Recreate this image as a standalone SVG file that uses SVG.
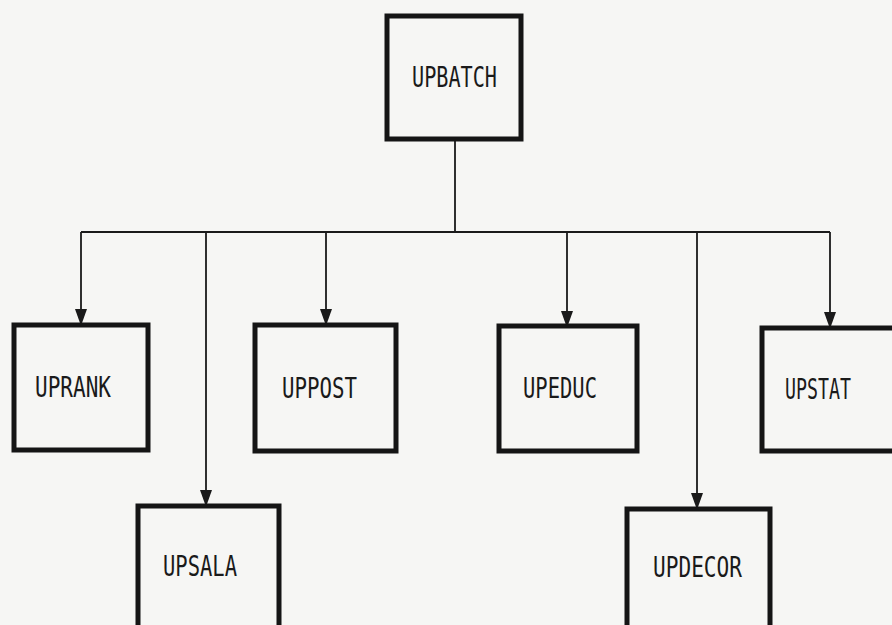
<svg xmlns="http://www.w3.org/2000/svg" width="892" height="625" viewBox="0 0 892 625">
<defs>
<style>
.box{fill:none;stroke:#151515;stroke-width:5}
.lbl{font-family:"DejaVu Sans Mono","Liberation Mono",monospace;font-size:28px;fill:#1a1a1a}
.con{fill:none;stroke:#1a1a1a;stroke-width:1.8}
.ah{fill:#1a1a1a}
</style>
</defs>
<rect width="892" height="625" fill="#f6f6f4"/>
<g id="connectors">
<line class="con" x1="455" y1="140" x2="455" y2="232"/>
<line class="con" x1="81" y1="232" x2="830" y2="232"/>
<path class="con" d="M81,232 V310"/>
<polygon class="ah" points="75,309 87,309 82,323 80,323"/>
<path class="con" d="M206,232 V491"/>
<polygon class="ah" points="200,490 212,490 207,504 205,504"/>
<path class="con" d="M326,232 V310"/>
<polygon class="ah" points="320,309 332,309 327,323 325,323"/>
<path class="con" d="M567,232 V312"/>
<polygon class="ah" points="561,311 573,311 568,325 566,325"/>
<path class="con" d="M697,232 V494"/>
<polygon class="ah" points="691,493 703,493 698,507 696,507"/>
<path class="con" d="M830,232 V313"/>
<polygon class="ah" points="824,312 836,312 831,326 829,326"/>
</g>
<g id="UPBATCH">
<rect class="box" x="387" y="16" width="134" height="123"/>
<text class="lbl" x="412" y="87" textLength="85" lengthAdjust="spacingAndGlyphs">UPBATCH</text>
</g>
<g id="UPRANK">
<rect class="box" x="14" y="325" width="134" height="125"/>
<text class="lbl" x="35" y="397" textLength="76" lengthAdjust="spacingAndGlyphs">UPRANK</text>
</g>
<g id="UPPOST">
<rect class="box" x="255" y="325" width="141" height="126"/>
<text class="lbl" x="282" y="398" textLength="75" lengthAdjust="spacingAndGlyphs">UPPOST</text>
</g>
<g id="UPEDUC">
<rect class="box" x="499" y="326" width="138" height="125"/>
<text class="lbl" x="523" y="398" textLength="74" lengthAdjust="spacingAndGlyphs">UPEDUC</text>
</g>
<g id="UPSTAT">
<rect class="box" x="762" y="328" width="140" height="123"/>
<text class="lbl" x="785" y="399" textLength="66" lengthAdjust="spacingAndGlyphs">UPSTAT</text>
</g>
<g id="UPSALA">
<rect class="box" x="138" y="506" width="141" height="130"/>
<text class="lbl" x="163" y="576" textLength="74" lengthAdjust="spacingAndGlyphs">UPSALA</text>
</g>
<g id="UPDECOR">
<rect class="box" x="627" y="509" width="143" height="130"/>
<text class="lbl" x="653" y="577" textLength="89" lengthAdjust="spacingAndGlyphs">UPDECOR</text>
</g>
</svg>
